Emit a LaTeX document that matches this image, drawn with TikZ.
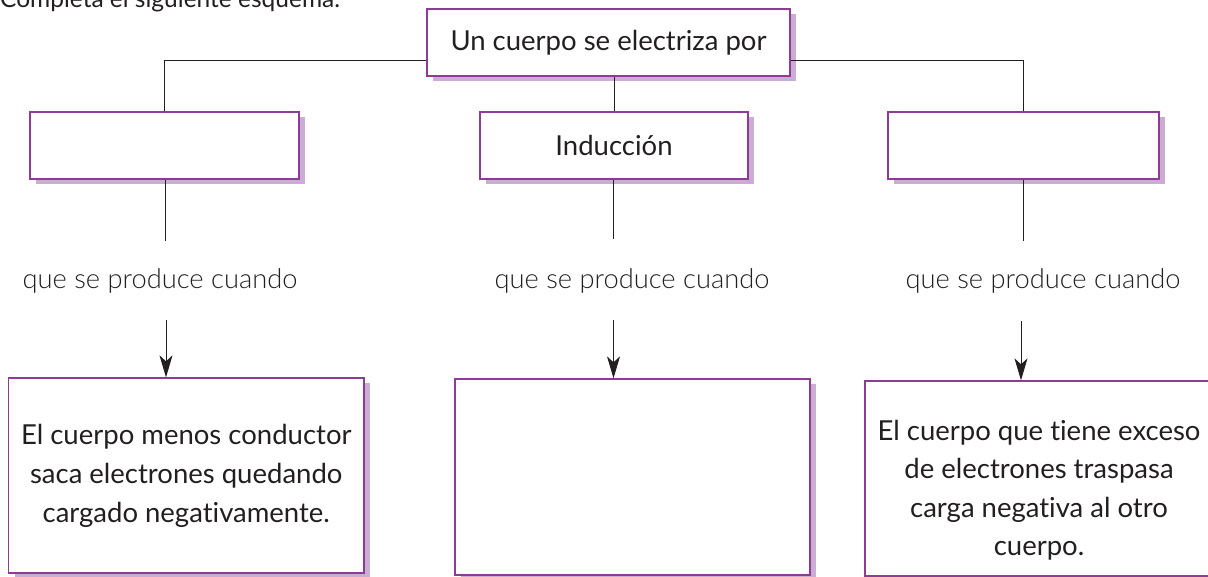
\documentclass[tikz,border=0pt]{standalone}
\usepackage{fontspec}
\setmainfont{Lato}[Ligatures=NoCommon]
\newfontfamily\lightfont{Lato Light}[Ligatures=NoCommon]
\usetikzlibrary{shadows,arrows.meta}
\definecolor{boxborder}{HTML}{8E3A96}
\definecolor{boxshadow}{HTML}{C9ADD3}
\definecolor{inkgray}{HTML}{231F20}
\begin{document}
\begin{tikzpicture}[x=1pt,y=-1pt,
  conceptbox/.style={draw=boxborder, line width=1.3pt, fill=white, inner sep=0pt,
    align=center, text=inkgray, font=\fontsize{27.5}{39}\selectfont,
    drop shadow={shadow xshift=6pt, shadow yshift=-5pt, fill=boxshadow, opacity=1}},
  boxtext/.style={inner sep=0pt, align=center, text=inkgray, font=\fontsize{27.5}{38.5}\selectfont},
  link/.style={draw=inkgray, line width=1pt},
  arrowlink/.style={link, -{Stealth[length=22pt, width=13pt, inset=6pt]}},
  cuelabel/.style={font=\lightfont\fontsize{27.3}{30}\selectfont, text=inkgray, inner sep=0pt, anchor=base}]
\useasboundingbox (0,0) rectangle (1208,576);
\clip (0,0) rectangle (1208,576);
\node[anchor=base west, inner sep=0pt, text=inkgray, font=\fontsize{24.5}{30}\selectfont] (title) at (0,7) {Completa el siguiente esquema.};
% first row
\node[conceptbox, minimum width=363pt, minimum height=67pt] (top) at (608.5,42.5) {Un cuerpo se electriza por};
\node[conceptbox, minimum width=269pt, minimum height=67pt] (L1) at (164.5,145.5) {};
\node[conceptbox, minimum width=268pt, minimum height=67pt] (M1) at (614,145.5) {Inducción};
\node[conceptbox, minimum width=271pt, minimum height=67pt] (R1) at (1023.5,145.5) {};
% labels
\node[cuelabel] (labL) at (160,288) {que se produce cuando};
\node[cuelabel] (labM) at (632,288) {que se produce cuando};
\node[cuelabel] (labR) at (1043,288) {que se produce cuando};
% second row
\node[conceptbox, minimum width=355.5pt, minimum height=195pt] (L2) at (186.25,475.5) {El cuerpo menos conductor\\saca electrones quedando\\cargado negativamente.};
\node[conceptbox, minimum width=355pt, minimum height=196pt] (M2) at (632.5,477) {};
\node[conceptbox, minimum width=348pt, minimum height=195pt] (R2) at (1039,478.5) {};
\node[boxtext] (R2text) at (1039,490) {El cuerpo que tiene exceso\\de electrones traspasa\\carga negativa al otro\\cuerpo.};
% connectors top
\draw[link] (top.west) ++(0,17.5) -| (L1.north);
\draw[link] (top.east) ++(0,17.5) -| (R1.north);
\draw[link] (M1.north |- top.south) -- (M1.north);
% lower connectors
\coordinate (lEnd) at (165,241);
\coordinate (mEnd) at (613.5,239);
\coordinate (rEnd) at (1023.5,241);
\coordinate (lStart) at (166,320);
\coordinate (mStart) at (613.5,320);
\coordinate (rStart) at (1021,321);
\draw[link] (lEnd |- L1.south) -- (lEnd);
\draw[link] (mEnd |- M1.south) -- (mEnd);
\draw[link] (rEnd |- R1.south) -- (rEnd);
\draw[arrowlink] (lStart) -- (lStart |- L2.north);
\draw[arrowlink] (mStart) -- (mStart |- M2.north);
\draw[arrowlink] (rStart) -- (rStart |- R2.north);
\end{tikzpicture}
\end{document}
